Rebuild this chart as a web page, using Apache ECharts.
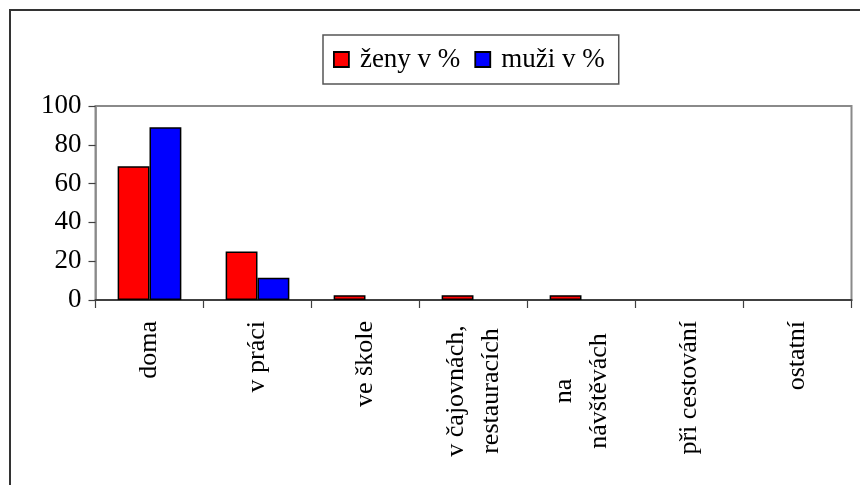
<!DOCTYPE html>
<html>
<head>
<meta charset="utf-8">
<script src="https://cdn.jsdelivr.net/npm/echarts@6/dist/echarts.min.js"></script>
<style>
html,body{margin:0;padding:0;background:#fff;}
#c{width:860px;height:485px;}
</style>
</head>
<body>
<div id="c"></div>
<script>
const categories = ['doma', 'v práci', 've škole', 'v čajovnách,\nrestauracích', 'na\nnávštěvách', 'při cestování', 'ostatní'];
const zenyValues = [69, 25, 2.5, 2.5, 2.5, 0, 0];
const muziValues = [89, 11.5, 0, 0, 0, 0, 0];
const yTicks = [0, 20, 40, 60, 80, 100];
const seriesNames = ['ženy v %', 'muži v %'];

const FONT = "'Liberation Serif', 'Times New Roman', serif";
const chart = echarts.init(document.getElementById('c'), null, {renderer: 'canvas'});

function fmtLabel(v) {
  if (v.indexOf('\n') < 0) return v;
  return v.split('\n').map(l => '{c|' + l + '}').join('\n');
}
// zero values draw no bar in the reference
const noZero = arr => arr.map(v => (v === 0 ? '-' : v));

chart.setOption({
  animation: false,
  backgroundColor: '#fff',
  graphic: [{
    type: 'rect',
    shape: {x: 10, y: 10, width: 900, height: 500},
    style: {fill: 'none', stroke: '#333', lineWidth: 2},
    z: 100
  }],
  legend: {
    data: seriesNames,
    left: 323,
    top: 35,
    padding: [11, 14, 11, 10],
    itemGap: 14,
    itemWidth: 15,
    itemHeight: 15,
    icon: 'rect',
    borderColor: '#555',
    borderWidth: 1.5,
    textStyle: {fontFamily: FONT, fontSize: 27, color: '#000', padding: [0, 0, 0, 6]},
    itemStyle: {borderColor: '#000', borderWidth: 1.8}
  },
  grid: {
    left: 95.5, top: 106, right: 8.5, bottom: 185,
    show: true, borderColor: '#8a8a8a', borderWidth: 2,
    containLabel: false
  },
  xAxis: {
    type: 'category',
    data: categories,
    boundaryGap: true,
    axisLine: {lineStyle: {color: '#404040', width: 2}},
    axisTick: {show: true, length: 8, lineStyle: {color: '#404040', width: 1.2}},
    axisLabel: {
      rotate: 90,
      interval: 0,
      margin: 21,
      fontFamily: FONT,
      fontSize: 26,
      color: '#000',
      lineHeight: 35,
      formatter: fmtLabel,
      rich: {c: {fontFamily: FONT, fontSize: 26, color: '#000', width: 140, align: 'center', lineHeight: 35}}
    }
  },
  yAxis: {
    type: 'value',
    min: yTicks[0],
    max: yTicks[yTicks.length - 1],
    interval: 20,
    splitLine: {show: false},
    axisLine: {show: true, lineStyle: {color: '#8a8a8a', width: 1.5}},
    axisTick: {show: true, length: 7, lineStyle: {color: '#404040', width: 1.2}},
    axisLabel: {fontFamily: FONT, fontSize: 27, color: '#000', margin: 14}
  },
  series: [
    {
      name: seriesNames[0], type: 'bar', data: noZero(zenyValues),
      barGap: '0%', barCategoryGap: '41%',
      itemStyle: {color: '#FF0000', borderColor: '#000', borderWidth: 1.5}
    },
    {
      name: seriesNames[1], type: 'bar', data: noZero(muziValues),
      itemStyle: {color: '#0000FF', borderColor: '#000', borderWidth: 1.5}
    }
  ]
});
</script>
</body>
</html>
